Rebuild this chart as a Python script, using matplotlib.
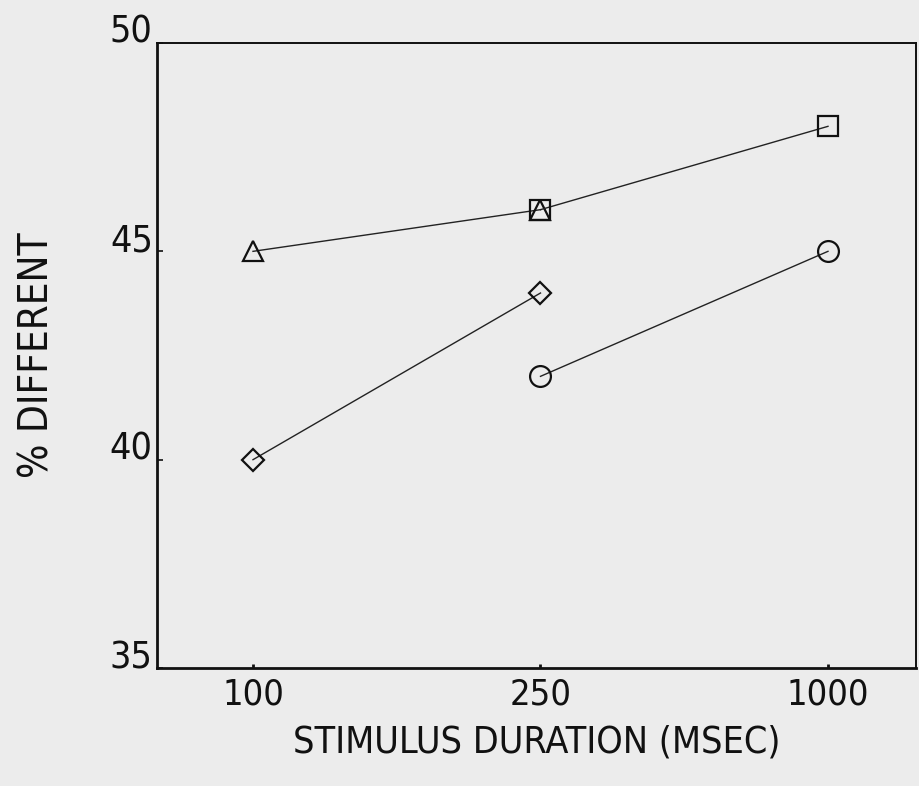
import matplotlib
matplotlib.use("Agg")
import matplotlib.pyplot as plt

# Stimulus durations (categorical x positions) and % different per condition
durations = ["100", "250", "1000"]
triangle_x = [0, 1]
triangle_y = [45, 46]
square_x = [1, 2]
square_y = [46, 48]
diamond_x = [0, 1]
diamond_y = [40, 44]
circle_x = [1, 2]
circle_y = [42, 45]
y_ticks = [35, 40, 45, 50]

plt.rcParams["font.family"] = ["DejaVu Sans"]
plt.rcParams["font.stretch"] = "condensed"
bg = "#ececec"
ink = "#111111"

fig = plt.figure(figsize=(9.19, 7.86), dpi=100, facecolor=bg)
ax = fig.add_axes([0.1708, 0.1501, 0.8259, 0.7952], facecolor=bg)

style = dict(color="#222222", lw=1.0, mfc="none", mec=ink, mew=1.6)
ax.plot(triangle_x, triangle_y, marker="^", ms=15, **style)
ax.plot(diamond_x, diamond_y, marker="D", ms=11, **style)
ax.plot(circle_x, circle_y, marker="o", ms=15, **style)
ax.plot(square_x, square_y, marker="s", ms=15, **style)

ax.set_xlim(-0.334, 2.306)
ax.set_ylim(35, 50)
ax.set_xticks(range(len(durations)))
ax.set_xticklabels(durations, fontsize=26)
ax.set_yticks(y_ticks)
ax.set_yticklabels([str(v) for v in y_ticks], fontsize=27, va="baseline")
ax.tick_params(axis="x", direction="in", length=3, width=2, pad=7, colors=ink)
ax.tick_params(axis="y", direction="in", length=4, width=1.2, pad=3, colors=ink)

for side in ["left", "bottom"]:
    ax.spines[side].set_linewidth(2.0)
for side in ["top", "right"]:
    ax.spines[side].set_linewidth(1.4)
for sp in ax.spines.values():
    sp.set_color(ink)

ax.set_xlabel("STIMULUS DURATION (MSEC)", fontsize=27, labelpad=9, color=ink)
ax.set_ylabel("% DIFFERENT", fontsize=29, labelpad=38, color=ink)

fig.savefig("out.png", dpi=100, facecolor=bg)
